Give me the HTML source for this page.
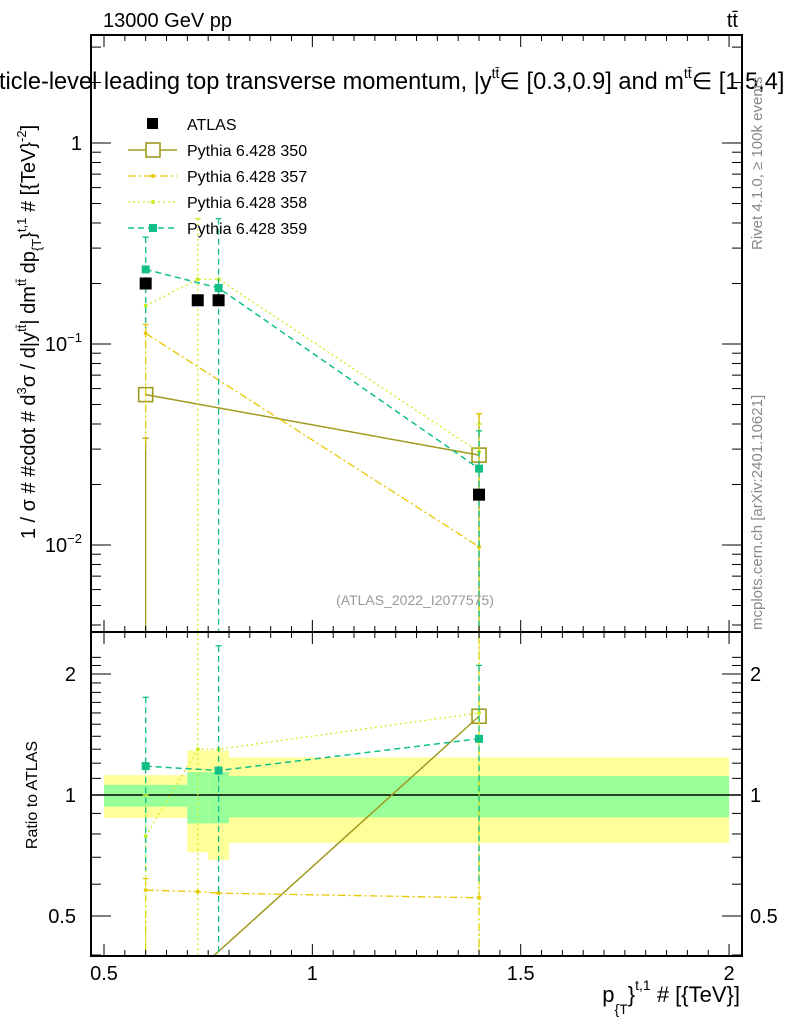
<!DOCTYPE html>
<html><head><meta charset="utf-8"><style>
html,body{margin:0;padding:0;background:#fff;width:786px;height:1024px;overflow:hidden;}
svg{display:block;font-family:"Liberation Sans",Arial,sans-serif;overflow:hidden;}
</style></head><body>
<svg id="chart" width="786" height="1024" viewBox="0 0 786 1024" xmlns="http://www.w3.org/2000/svg">
<g id="bands"></g>
<g id="marks"></g>
<g id="axes"></g>
<text x="103" y="27" font-size="20">13000 GeV pp</text>
<text x="738" y="27" font-size="20" text-anchor="end">tt̄</text>
<text x="-1" y="89" font-size="23.6">ticle-level leading top transverse momentum, |y<tspan font-size="14" dy="-11">tt̄</tspan><tspan dy="11">∈ [0.3,0.9] and m</tspan><tspan font-size="14" dy="-11">tt̄</tspan><tspan dy="11">∈ [1.5,4]</tspan></text>
<text transform="translate(35,332) rotate(-90)" font-size="20" text-anchor="middle">1 / σ # #cdot # d<tspan font-size="13" dy="-9">3</tspan><tspan dy="9">σ / d|y</tspan><tspan font-size="13" dy="-9">tt̄</tspan><tspan dy="9">| dm</tspan><tspan font-size="13" dy="-9">tt̄</tspan><tspan dy="9"> dp</tspan><tspan font-size="13" dy="6">{T</tspan><tspan dy="-6">}</tspan><tspan font-size="13" dy="-9">t,1</tspan><tspan dy="9"> # [{TeV}</tspan><tspan font-size="13" dy="-9">-2</tspan><tspan dy="9">]</tspan></text>
<text transform="translate(37,795) rotate(-90)" font-size="16" text-anchor="middle">Ratio to ATLAS</text>
<text x="740" y="1002" font-size="22" text-anchor="end">p<tspan font-size="14" dy="12">{T</tspan><tspan dy="-12">}</tspan><tspan font-size="14" dy="-12">t,1</tspan><tspan dy="12"> # [{TeV}]</tspan></text>
<text transform="translate(762,250) rotate(-90)" font-size="15" fill="#888">Rivet 4.1.0, ≥ 100k events</text>
<text transform="translate(762,630) rotate(-90)" font-size="15" fill="#888">mcplots.cern.ch [arXiv:2401.10621]</text>
<text x="415" y="605" font-size="14" fill="#999" text-anchor="middle">(ATLAS_2022_I2077575)</text>
<g id="legend"></g>
</svg>
<script>
const xPoints = [0.6, 0.725, 0.775, 1.4];
const atlasValues = [0.2, 0.165, 0.165, 0.0178];
const bandEdges = [0.5, 0.7, 0.75, 0.8, 2.0];
const bandInnerLo = [0.935, 0.85, 0.85, 0.88];
const bandInnerHi = [1.06, 1.14, 1.14, 1.115];
const bandOuterLo = [0.877, 0.72, 0.69, 0.76];
const bandOuterHi = [1.12, 1.29, 1.29, 1.24];
const s350 = [0.056, null, null, 0.028];
const s357 = [0.113, null, null, 0.0098];
const s358 = [0.155, 0.21, 0.21, 0.029];
const s359 = [0.235, null, 0.19, 0.024];
const r350 = [0.28, null, null, 1.57];
const r357 = [0.58, 0.575, 0.57, 0.555];
const r358 = [0.79, 1.3, 1.3, 1.6];
const r359 = [1.18, null, 1.15, 1.38];
const err350 = [[0.034, 0.0001], null, null, [0.045, 0.0001]];
const err357 = [[0.125, 0.03], null, null, [0.045, 0.0001]];
const err358 = [null, [0.42, 0.0001], null, [0.04, 0.0001]];
const err359 = [[0.34, 0.12], null, [0.42, 0.0001], [0.037, 0.0001]];
const rerr359 = [[1.75, 0.65], null, [2.35, 0.01], [2.1, 0.6]];
const rerr358 = [[1.0, 0.01], [3, 0.01], null, [3, 0.01]];
const rerr357 = [[0.62, 0.01], null, null, [3, 0.01]];
const xTicks = [0.5, 1, 1.5, 2];
const xTickLabels = ["0.5", "1", "1.5", "2"];
const yMainTicks = [1, 0.1, 0.01];
const ratioTicks = [0.5, 1, 2];
const ratioTickLabels = ["0.5", "1", "2"];

const L = 91, R = 742, T = 35, MB = 632, RB = 956;
const px = x => 104 + (x - 0.5) * 416.7;
const py = v => 143 - Math.log10(v) * 201;
const ry = r => 795 - Math.log10(r) * 402;
const NS = "http://www.w3.org/2000/svg";
function el(tag, attrs, parent) {
  const e = document.createElementNS(NS, tag);
  for (const k in attrs) e.setAttribute(k, attrs[k]);
  parent.appendChild(e);
  return e;
}
const svg = document.getElementById('chart');
const defs = el('defs', {}, svg);
const c1 = el('clipPath', {id: 'cm'}, defs);
el('rect', {x: L, y: T, width: R - L, height: MB - T}, c1);
const c2 = el('clipPath', {id: 'cr'}, defs);
el('rect', {x: L, y: MB, width: R - L, height: RB - MB}, c2);

const bands = document.getElementById('bands');
for (let i = 0; i < 4; i++) {
  const y = el('rect', {x: px(bandEdges[i]), width: px(bandEdges[i + 1]) - px(bandEdges[i]), y: ry(bandOuterHi[i]), height: ry(bandOuterLo[i]) - ry(bandOuterHi[i]), fill: '#ffff99'}, bands);
  
  
  const g = el('rect', {x: px(bandEdges[i]), width: px(bandEdges[i + 1]) - px(bandEdges[i]), y: ry(bandInnerHi[i]), height: ry(bandInnerLo[i]) - ry(bandInnerHi[i]), fill: '#99ff99'}, bands);
  
  
}
const marks = document.getElementById('marks');
const gm = el('g', {'clip-path': 'url(#cm)'}, marks);
const gr = el('g', {'clip-path': 'url(#cr)'}, marks);
el('line', {x1: L, x2: R, y1: ry(1), y2: ry(1), stroke: '#000', 'stroke-width': 1.5}, gr);

const series = [
  {name: '350', vals: s350, rv: r350, err: err350, rerr: [null,null,null,null], col: '#a09a1e', dash: '', w: 1.5, mk: 'open'},
  {name: '357', vals: s357, rv: r357, err: err357, rerr: rerr357, col: '#e8c800', dash: '8,3,2,3', w: 1.3, mk: 'dot'},
  {name: '358', vals: s358, rv: r358, err: err358, rerr: rerr358, col: '#ccee22', dash: '2,3', w: 1.3, mk: 'dot'},
  {name: '359', vals: s359, rv: r359, err: err359, rerr: rerr359, col: '#11c088', dash: '6,4', w: 1.5, mk: 'sq'}
];
function drawSeries(s, g, vals, yf, errs, kind) {
  const pts = [];
  vals.forEach((v, i) => { if (v != null) pts.push([px(xPoints[i]), yf(v)]); });
  const pl = el('polyline', {points: pts.map(p => p.join(',')).join(' '), fill: 'none', stroke: s.col, 'stroke-width': s.w, 'stroke-dasharray': s.dash}, g);
  
  
  errs.forEach((e, i) => {
    if (!e) return;
    const x = px(xPoints[i]);
    const eb = el('line', {x1: x, x2: x, y1: yf(e[0]), y2: yf(e[1]), stroke: s.col, 'stroke-width': 1.3, 'stroke-dasharray': s.dash}, g);
    
    
    el('line', {x1: x - 3, x2: x + 3, y1: yf(e[0]), y2: yf(e[0]), stroke: s.col, 'stroke-width': 1.3}, g);
  });
  vals.forEach((v, i) => {
    if (v == null) return;
    const x = px(xPoints[i]), y = yf(v);
    let m;
    if (s.mk === 'open') m = el('rect', {x: x - 7, y: y - 7, width: 14, height: 14, fill: 'none', stroke: s.col, 'stroke-width': 1.6}, g);
    else if (s.mk === 'sq') m = el('rect', {x: x - 4, y: y - 4, width: 8, height: 8, fill: s.col}, g);
    else m = el('circle', {cx: x, cy: y, r: 2, fill: s.col}, g);
    
    
  });
}
series.forEach(s => {
  drawSeries(s, gm, s.vals, py, s.err, 'main');
  drawSeries(s, gr, s.rv, ry, s.rerr, 'ratio');
});
atlasValues.forEach((v, i) => {
  const x = px(xPoints[i]), y = py(v);
  const m = el('rect', {x: x - 6, y: y - 6, width: 12, height: 12, fill: '#000'}, gm);
  
  
});

const axes = document.getElementById('axes');
el('rect', {x: L, y: T, width: R - L, height: MB - T, fill: 'none', stroke: '#000', 'stroke-width': 2}, axes);
el('rect', {x: L, y: MB, width: R - L, height: RB - MB, fill: 'none', stroke: '#000', 'stroke-width': 2}, axes);
for (let x = 0.5; x <= 2.0001; x += 0.05) {
  const major = Math.abs(x * 2 - Math.round(x * 2)) < 1e-6;
  const len = major ? 12 : 6;
  const X = px(x);
  [[T, 1], [MB, -1], [MB, 1], [RB, -1]].forEach(([y0, d]) => el('line', {x1: X, x2: X, y1: y0, y2: y0 + d * len, stroke: '#000', 'stroke-width': 1}, axes));
}
xTicks.forEach((x, i) => {
  const t = el('text', {x: px(x), y: 980, 'font-size': 20, 'text-anchor': 'middle'}, axes);
  t.textContent = xTickLabels[i];
  
  
});
for (let d = -3; d <= 0; d++) for (let k = 1; k <= 9; k++) {
  const v = k * Math.pow(10, d);
  const y = py(v);
  if (y < T || y > MB) continue;
  const len = k === 1 ? 20 : 10;
  el('line', {x1: L, x2: L + len, y1: y, y2: y, stroke: '#000'}, axes);
  el('line', {x1: R, x2: R - len, y1: y, y2: y, stroke: '#000'}, axes);
}
yMainTicks.forEach(v => {
  const t = el('text', {x: 82, y: py(v) + 7, 'font-size': 20, 'text-anchor': 'end'}, axes);
  
  
  const e = Math.round(Math.log10(v));
  if (e === 0) t.textContent = '1';
  else { t.textContent = '10'; const s = el('tspan', {'font-size': 13, dy: -9}, t); s.textContent = '−' + (-e); }
});
[0.4,0.5,0.6,0.7,0.8,0.9,1,1.1,1.2,1.3,1.4,1.5,1.6,1.7,1.8,1.9,2,2.1,2.2].forEach(v => {
  const y = ry(v);
  if (y < MB || y > RB) return;
  const major = ratioTicks.includes(v);
  const len = major ? 20 : 10;
  el('line', {x1: L, x2: L + len, y1: y, y2: y, stroke: '#000'}, axes);
  el('line', {x1: R, x2: R - len, y1: y, y2: y, stroke: '#000'}, axes);
});
ratioTicks.forEach((v, i) => {
  const t = el('text', {x: 76, y: ry(v) + 7, 'font-size': 20, 'text-anchor': 'end'}, axes);
  t.textContent = ratioTickLabels[i];
  
  
  const t2 = el('text', {x: 750, y: ry(v) + 7, 'font-size': 20}, axes);
  t2.textContent = ratioTickLabels[i];
  
  
});

const lg = document.getElementById('legend');
const a = el('rect', {x: 147, y: 118, width: 11, height: 11, fill: '#000'}, lg);


const at = el('text', {x: 187, y: 130, 'font-size': 16}, lg);
at.textContent = 'ATLAS';


series.forEach((s, i) => {
  const y = 150 + i * 26;
  el('line', {x1: 128, x2: 177, y1: y, y2: y, stroke: s.col, 'stroke-width': s.w, 'stroke-dasharray': s.dash}, lg);
  if (s.mk === 'open') el('rect', {x: 146, y: y - 7, width: 14, height: 14, fill: '#fff', stroke: s.col, 'stroke-width': 1.6}, lg);
  else if (s.mk === 'sq') el('rect', {x: 149, y: y - 4, width: 8, height: 8, fill: s.col}, lg);
  else el('circle', {cx: 153, cy: y, r: 2, fill: s.col}, lg);
  const t = el('text', {x: 187, y: y + 6, 'font-size': 16}, lg);
  t.textContent = 'Pythia 6.428 ' + s.name;
  
  
});
</script>
</body></html>
